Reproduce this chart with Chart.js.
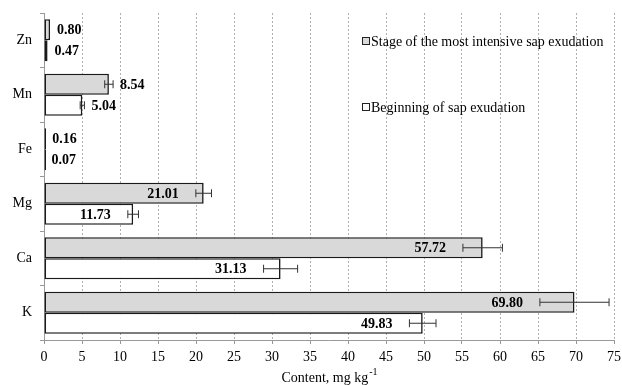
<!DOCTYPE html>
<html>
<head>
<meta charset="utf-8">
<script src="https://cdn.jsdelivr.net/npm/chart.js@4"></script>
<style>
  html, body { margin: 0; padding: 0; background: #fff; }
  #wrap { width: 622px; height: 385px; }
</style>
</head>
<body>
<div id="wrap"><canvas id="grafik"></canvas></div>
<script>
// elements, top to bottom
const elements = ["Zn", "Mn", "Fe", "Mg", "Ca", "K"];

const intensive = [0.80, 8.54, 0.16, 21.01, 57.72, 69.80];
const beginning = [0.47, 5.04, 0.07, 11.73, 31.13, 49.83];

// +/- error read from the whiskers
const errIntensive = [0, 0.55, 0, 1.03, 2.60, 4.55];
const errBeginning = [0, 0.28, 0, 0.70, 2.24, 1.75];

const xTicks = [0, 5, 10, 15, 20, 25, 30, 35, 40, 45, 50, 55, 60, 65, 70, 75];

const seriesNames = ["Stage of the most intensive sap exudation", "Beginning of sap exudation"];
const errors = [errIntensive, errBeginning];

const SERIF = "'Liberation Serif', 'Times New Roman', serif";

// whiskers + value labels
const extras = {
    id: "extras",
    afterDatasetsDraw(chart){
        const ctx = chart.ctx;
        const x = chart.scales.x;
        chart.data.datasets.forEach((ds, di) => {
            const meta = chart.getDatasetMeta(di);
            meta.data.forEach((bar, i) => {
                const v = ds.data[i];
                const e = errors[di][i];
                const y = bar.y;
                ctx.save();
                if(e > 0){
                    const x1 = x.getPixelForValue(v - e);
                    const x2 = x.getPixelForValue(v + e);
                    ctx.strokeStyle = "#333";
                    ctx.lineWidth = 1;
                    ctx.beginPath();
                    ctx.moveTo(x1, y); ctx.lineTo(x2, y);
                    ctx.moveTo(x1, y - 4); ctx.lineTo(x1, y + 4);
                    ctx.moveTo(x2, y - 4); ctx.lineTo(x2, y + 4);
                    ctx.stroke();
                }
                ctx.fillStyle = "#000";
                ctx.font = "bold 14px " + SERIF;
                ctx.textBaseline = "middle";
                const txt = v.toFixed(2);
                if(v > 10){
                    ctx.textAlign = "right";
                    ctx.fillText(txt, x.getPixelForValue(v - e) - 17, y + 1);
                } else {
                    ctx.textAlign = "left";
                    ctx.fillText(txt, x.getPixelForValue(v + e) + 7, y + 1);
                }
                ctx.restore();
            });
        });
    },
    afterDraw(chart){
        const ctx = chart.ctx;
        const a = chart.chartArea;
        // legend inside plot
        const lx = a.left + 318;
        const rows = [41, 107];
        chart.data.datasets.forEach((ds, di) => {
            const cy = rows[di];
            ctx.save();
            ctx.fillStyle = ds.backgroundColor;
            ctx.fillRect(lx, cy - 3.5, 7, 7);
            ctx.strokeStyle = "#222";
            ctx.lineWidth = 1;
            ctx.strokeRect(lx + 0.5, cy - 3.5, 7, 7);
            ctx.fillStyle = "#000";
            ctx.font = "14px " + SERIF;
            ctx.textAlign = "left";
            ctx.textBaseline = "middle";
            ctx.fillText(ds.label, lx + 9, cy + 1);
            ctx.restore();
        });
        // axis title with superscript
        ctx.save();
        ctx.fillStyle = "#000";
        ctx.font = "14px " + SERIF;
        ctx.textBaseline = "alphabetic";
        const main = "Content, mg kg";
        const sup = "-1";
        const w1 = ctx.measureText(main).width;
        ctx.font = "10px " + SERIF;
        const w2 = ctx.measureText(sup).width;
        const start = (a.left + a.right) / 2 - (w1 + w2) / 2;
        ctx.font = "14px " + SERIF;
        ctx.textAlign = "left";
        ctx.fillText(main, start, 382);
        ctx.font = "10px " + SERIF;
        ctx.fillText(sup, start + w1 + 1, 375);
        ctx.restore();
    }
};

new Chart(document.getElementById("grafik"), {
    type: "bar",
    data: {
        labels: elements,
        datasets: [
            {
                label: seriesNames[0],
                data: intensive,
                backgroundColor: "#d9d9d9",
                borderColor: "#1a1a1a",
                borderWidth: 1.6,
                borderSkipped: false,
                minBarLength: 2
            },
            {
                label: seriesNames[1],
                data: beginning,
                backgroundColor: "#ffffff",
                borderColor: "#1a1a1a",
                borderWidth: 1.6,
                borderSkipped: false,
                minBarLength: 2
            }
        ]
    },
    options: {
        indexAxis: "y",
        responsive: true,
        maintainAspectRatio: false,
        animation: false,
        layout: { padding: { top: 13, right: 8, left: 0, bottom: 0 } },
        datasets: { bar: { categoryPercentage: 0.77, barPercentage: 1 } },
        plugins: {
            legend: { display: false },
            tooltip: { enabled: false }
        },
        scales: {
            x: {
                min: 0,
                max: 75,
                afterBuildTicks(scale){ scale.ticks = xTicks.map(v => ({ value: v })); },
                afterFit(scale){
                    scale.height = 45;
                    scale.paddingLeft = 0;
                    scale.paddingRight = 0;
                },
                ticks: {
                    color: "#000",
                    font: { family: SERIF, size: 14 },
                    padding: 5,
                    maxRotation: 0
                },
                grid: {
                    color: "#b0b0b0",
                    tickColor: "#999",
                    tickLength: 4
                },
                border: { display: true, color: "#999", width: 1, dash: [2, 2] }
            },
            y: {
                afterFit(scale){
                    scale.width = 44;
                    scale.paddingTop = 0;
                    scale.paddingBottom = 0;
                },
                ticks: {
                    color: "#000",
                    font: { family: SERIF, size: 14 },
                    padding: 8
                },
                grid: {
                    offset: true,
                    drawOnChartArea: false,
                    drawTicks: true,
                    tickLength: 4,
                    tickColor: "#999"
                },
                border: { display: true, color: "#999", width: 1 }
            }
        }
    },
    plugins: [extras]
});
</script>
</body>
</html>
